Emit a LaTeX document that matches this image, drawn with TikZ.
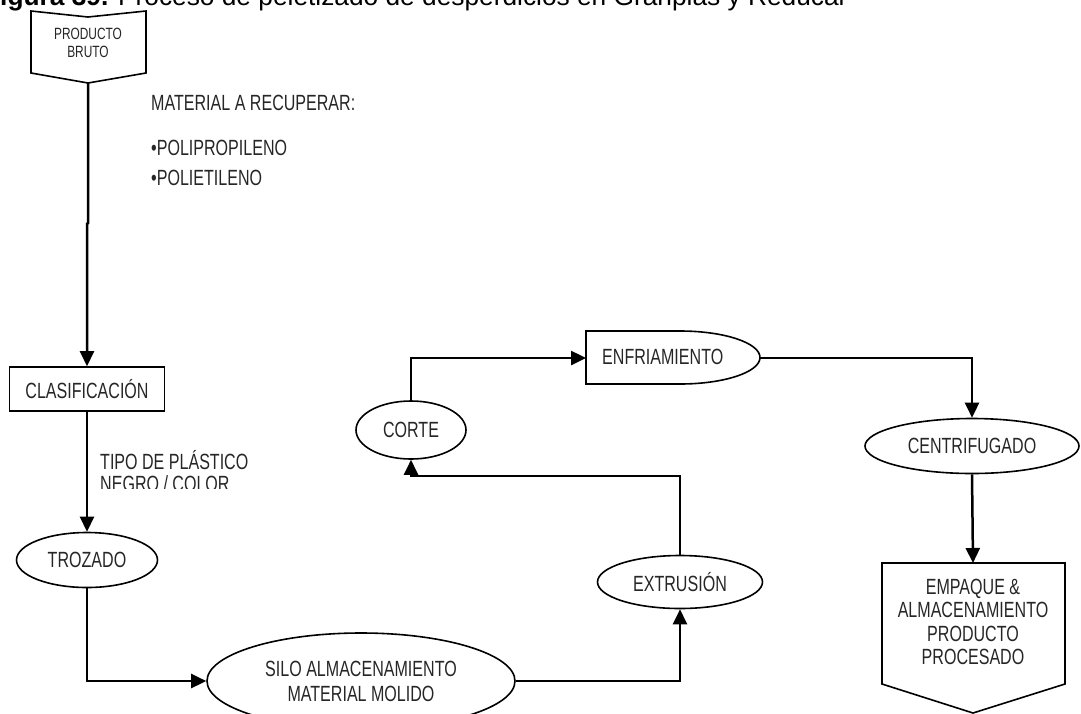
\documentclass[tikz,border=0pt]{standalone}
\usepackage{fontspec}
\setmainfont{Liberation Sans}[FakeStretch=0.73]
\newfontfamily\titlefont{Liberation Sans}
\usetikzlibrary{shapes.geometric,arrows.meta}

\begin{document}
\begin{tikzpicture}[x=1pt,y=-1pt,
  every node/.style={font=\fontsize{22}{25}\selectfont, text=black!85},
  conn/.style={line width=2.5pt, -{Triangle[length=15pt,width=14pt]}},
  outline/.style={draw, line width=1.6pt, line join=miter},
  oval/.style={draw, ellipse, line width=1.6pt, inner sep=0pt, align=center},
  box/.style={draw, rectangle, line width=1.6pt, inner sep=0pt},
  lbl/.style={anchor=west, inner sep=0pt}]

\useasboundingbox (0,0) rectangle (1081,713);

% caption line at the top edge
\node[anchor=base west, inner sep=0pt, text=black,
      font=\titlefont\fontsize{26.3}{30}\selectfont] (title) at (0,5)
  {\textbf{igura 39.} Proceso de peletizado de desperdicios en Granplas y Reducal};

% off-page connector: raw product
\draw[outline] (31,11) -- (88,17) -- (146,11) -- (146,73) -- (88,83) -- (31,73) -- cycle;
\node[align=center, inner sep=0pt, font=\fontsize{16.3}{18}\selectfont] (prod) at (88,43) {PRODUCTO\\BRUTO};
\coordinate (prodB) at (88,83);

% notes
\node[lbl] (matrec) at (151,103) {MATERIAL A RECUPERAR:};
\node[lbl] (pp) at (151,148) {•POLIPROPILENO};
\node[lbl] (pe) at (151,178) {•POLIETILENO};

\begin{scope}
  \clip (90,440) rectangle (320,488.5);
  \node[lbl] (tipo) at (100,460) {TIPO DE PLÁSTICO};
  \node[lbl] (negro) at (100,484) {NEGRO / COLOR};
\end{scope}

% process steps
\node[box, minimum width=155pt, minimum height=44pt] (clasif) at (87,389) {CLASIFICACIÓN};
\node[oval, minimum width=141pt, minimum height=55pt] (trozado) at (87,560) {TROZADO};
\node[oval, minimum width=308pt, minimum height=96pt] (silo) at (361,681) {SILO ALMACENAMIENTO\\MATERIAL MOLIDO};
\node[oval, minimum width=165pt, minimum height=53pt] (extrusion) at (680,582) {EXTRUSIÓN};
\node[oval, minimum width=110pt, minimum height=58pt] (corte) at (411,430) {CORTE};
\node[oval, minimum width=214pt, minimum height=55pt] (centri) at (972,446) {CENTRIFUGADO};

% delay-shaped step: cooling
\draw[outline] (586,331) -- (680,331)
  .. controls (724.2,331) and (760,342.9) .. (760,357.5)
  .. controls (760,372.1) and (724.2,384) .. (680,384)
  -- (586,384) -- cycle;
\node[lbl] (enfr) at (602,357) {ENFRIAMIENTO};
\coordinate (enfrL) at (586,358);
\coordinate (enfrR) at (760,358);

% off-page connector: packed product
\draw[outline] (882,563) -- (1065,563) -- (1065,684) -- (973,713) -- (882,684) -- cycle;
\node[align=center, inner sep=0pt, font=\fontsize{22}{23.4}\selectfont] (empaque) at (973,622)
  {EMPAQUE \&\\ALMACENAMIENTO\\PRODUCTO\\PROCESADO};
\coordinate (empTop) at (973,563);

% flow
\draw[conn] (prodB) -- (88,223) -- (87,224) -- (clasif.north);
\draw[conn] (clasif.south) -- (trozado.north);
\draw[conn] (trozado.south) |- (silo.west);
\draw[conn] (silo.east) -| (extrusion.south);
\draw[conn] (extrusion.north) -- (680,476) -| (corte.south);
\draw[conn] (corte.north) |- (enfrL);
\draw[conn] (enfrR) -| (centri.north);
\draw[conn] (centri.south) -- (empTop);
\end{tikzpicture}
\end{document}
